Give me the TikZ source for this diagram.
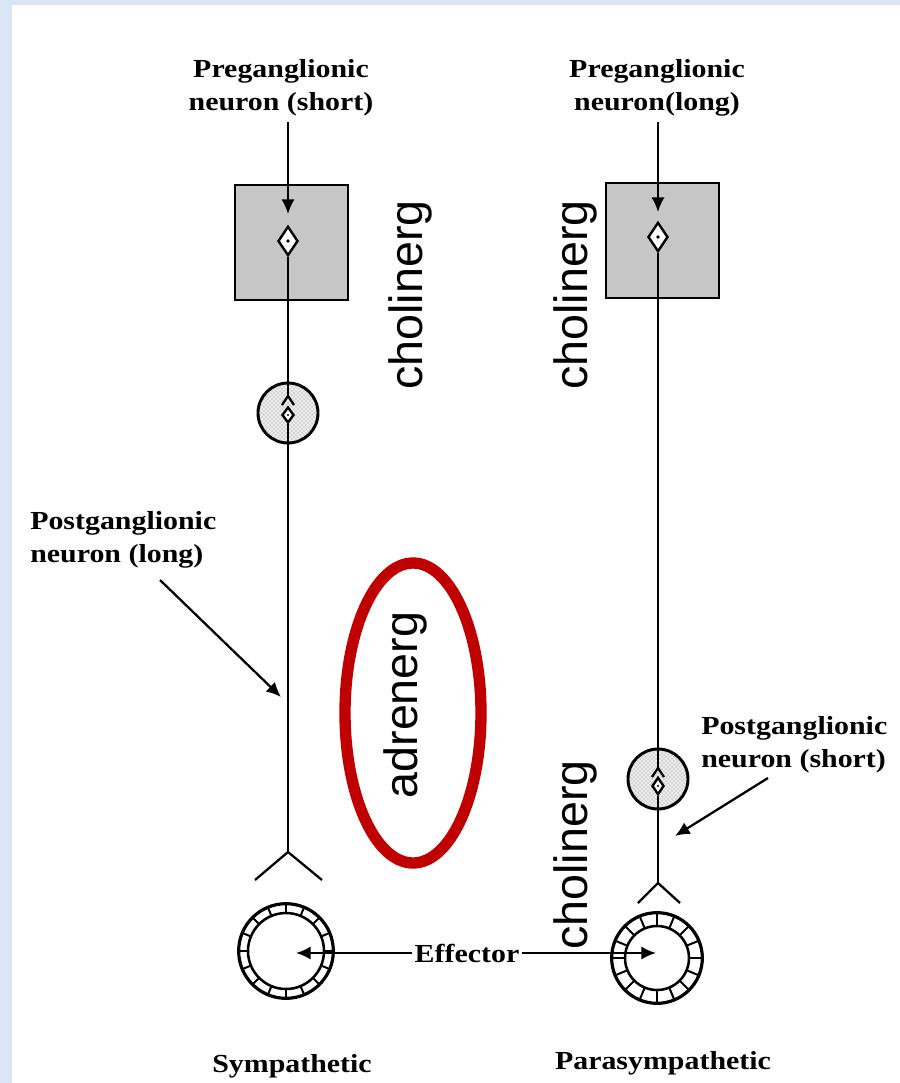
\documentclass[tikz,border=0pt]{standalone}
\usepackage{fontspec}
\setmainfont{Liberation Serif}
\newfontfamily\labfont[FakeStretch=1.15]{Liberation Serif}
\newfontfamily\arialfont{Liberation Sans}
\usetikzlibrary{arrows.meta,shapes.geometric,patterns,calc}
\definecolor{bgblue}{RGB}{218,230,245}
\definecolor{annred}{RGB}{192,0,0}
\begin{document}
\begin{tikzpicture}[x=0.75pt,y=-0.75pt,
  lab/.style={font=\labfont\bfseries\fontsize{19.5}{25}\selectfont, inner sep=0pt, align=center},
  rot/.style={rotate=90, font=\arialfont\fontsize{35}{40}\selectfont, inner sep=0pt},
  axon/.style={line width=1.7pt, black},
  arr/.style={axon, -{Latex[length=11pt,width=10pt]}},
  cns/.style={draw, line width=1.7pt, fill=gray!45, minimum width=84.75pt, minimum height=86.25pt, inner sep=0pt},
  soma/.style={diamond, draw, line width=1.8pt, fill=white, inner sep=0pt},
  gang/.style={circle, draw, line width=2.2pt, minimum size=45pt, inner sep=0pt,
    preaction={fill=gray!15}, preaction={pattern=crosshatch dots, pattern color=gray!90}},
  eff/.style={circle, draw, line width=2.4pt, inner sep=0pt, fill=white},
  cell/.style={line width=1.5pt}
]
\useasboundingbox (0,0) rectangle (900,1083);
\fill[bgblue] (0,0) rectangle (900,1083);
\fill[white] (12,5) rectangle (900,1083);

% ---------- labels ----------
\node[lab] (preL) at (281,88) {Preganglionic\\neuron (short)};
\node[lab] (preR) at (657,88) {Preganglionic\\neuron(long)};
\node[lab, anchor=west, align=left] (postL) at (30,540) {Postganglionic\\neuron (long)};
\node[lab, anchor=west, align=left] (postR) at (701,745) {Postganglionic\\neuron (short)};
\node[lab] (symp) at (292,1066) {Sympathetic};
\node[lab] (para) at (663,1063) {Parasympathetic};
\node[lab] (efflab) at (467,953) {Effector};

% ---------- CNS boxes ----------
\node[cns] (boxL) at (291.5,242.5) {};
\node[cns] (boxR) at (662.5,240.5) {};

% ---------- left (sympathetic) pathway ----------
\coordinate (inL) at (288,122);
\coordinate (tipL) at (288,214);
\node[soma, minimum width=15pt, minimum height=22pt] (dL) at (288,241) {};
\fill (dL.center) circle[radius=1.8];
\node[gang] (gL) at (288,413) {};
\coordinate (chL) at (288,396);
\coordinate (chL1) at (282,405);
\coordinate (chL2) at (294,405);
\node[soma, minimum width=9pt, minimum height=12pt] (sL) at (288,415) {};
\fill (sL.center) circle[radius=1.2];
\coordinate (fkL) at (288,852);
\coordinate (fkL1) at (255,880);
\coordinate (fkL2) at (322,880);
\node[eff, minimum size=71pt] (eL) at (286,951) {};
\draw[line width=1.9pt] (eL.center) circle[radius=38];
\foreach \a in {0,22.5,...,337.5}
  \draw[cell] ($(eL.center)+(\a:38)$) -- ($(eL.center)+(\a:47)$);
\coordinate (tipEL) at (296,953);

\draw[arr] (inL) -- (tipL);
\draw[axon] (dL.south) -- (chL);
\draw[axon] (chL1) -- (chL) -- (chL2);
\draw[axon] (sL.south) -- (fkL);
\draw[axon] (fkL1) -- (fkL) -- (fkL2);

% ---------- right (parasympathetic) pathway ----------
\coordinate (inR) at (658,122);
\coordinate (tipR) at (658,212);
\node[soma, minimum width=15pt, minimum height=22pt] (dR) at (658,237) {};
\fill (dR.center) circle[radius=1.8];
\node[gang] (gR) at (658,779) {};
\coordinate (chR) at (658,768);
\coordinate (chR1) at (652,777);
\coordinate (chR2) at (664,777);
\node[soma, minimum width=9pt, minimum height=13pt] (sR) at (658,786) {};
\fill (sR.center) circle[radius=1.2];
\coordinate (fkR) at (658,883);
\coordinate (fkR1) at (638,903);
\coordinate (fkR2) at (680,903);
\node[eff, minimum size=68pt] (eR) at (657,958) {};
\draw[line width=1.9pt] (eR.center) circle[radius=32];
\foreach \a in {0,22.5,...,337.5}
  \draw[cell] ($(eR.center)+(\a:32)$) -- ($(eR.center)+(\a:45)$);
\coordinate (tipER) at (656,953);

\draw[arr] (inR) -- (tipR);
\draw[axon] (dR.south) -- (chR);
\draw[axon] (chR1) -- (chR) -- (chR2);
\draw[axon] (sR.south) -- (fkR);
\draw[axon] (fkR1) -- (fkR) -- (fkR2);

% ---------- effector arrows ----------
\draw[arr] (efflab.west) ++(-2,0) coordinate (efW) (efW) -- (tipEL);
\draw[arr] (efflab.east) ++(2,0) coordinate (efE) (efE) -- (tipER);

% ---------- postganglionic pointers ----------
\coordinate (pLs) at (160,580);
\coordinate (pLt) at (281,697);
\draw[arr] (pLs) -- (pLt);
\coordinate (pRs) at (768,778);
\coordinate (pRt) at (675,836);
\draw[arr] (pRs) -- (pRt);

% ---------- annotations ----------
\node[rot] (ch1) at (410,295) {cholinerg};
\node[rot] (ch2) at (575,295) {cholinerg};
\node[rot] (ch3) at (575,855) {cholinerg};
\node[rot] (adr) at (405,705) {adrenerg};
\draw[annred, line width=8.5pt] (413,713) ellipse [x radius=68, y radius=150];
\end{tikzpicture}
\end{document}
